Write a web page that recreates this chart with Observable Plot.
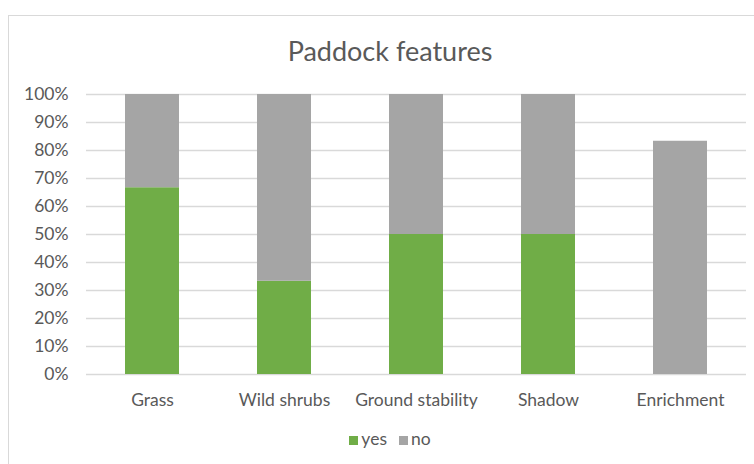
<!DOCTYPE html>
<html>
<head>
<meta charset="utf-8">
<script src="https://cdn.jsdelivr.net/npm/d3@7"></script>
<script src="https://cdn.jsdelivr.net/npm/@observablehq/plot@0.6"></script>
<style>
  html, body { margin: 0; padding: 0; background: #fff; overflow: hidden; width: 754px; height: 464px; }
  body { position: relative; font-family: Lato, "Open Sans", sans-serif; color: #595959; }
  #frame { position: absolute; left: 8px; top: 15px; width: 764px; height: 470px; border: 1.5px solid #d9d9d9; box-sizing: border-box; }
  #title { position: absolute; left: 8px; width: 764px; top: 35px; text-align: center; font-size: 27px; line-height: 32px; color: #595959; }
  #chart { position: absolute; left: 0; top: 80px; }
  #legend { position: absolute; left: 8px; width: 764px; top: 429px; text-align: center; font-size: 17.5px; line-height: 20px; color: #595959; }
  #legend .item { display: inline-block; margin: 0 6px; }
  #legend .sw { display: inline-block; width: 9px; height: 9px; margin-right: 3px; vertical-align: 0px; }
</style>
</head>
<body>
<div id="frame"></div>
<div id="title">Paddock features</div>
<div id="chart"></div>
<div id="legend"></div>
<script>
const categories = ["Grass", "Wild shrubs", "Ground stability", "Shadow", "Enrichment"];
const yesValues = [66.7, 33.3, 50, 50, 0];
const noValues = [33.3, 66.7, 50, 50, 83.3];
const seriesNames = ["yes", "no"];
const seriesColors = ["#70ad47", "#a5a5a5"];
const yTicks = [0, 10, 20, 30, 40, 50, 60, 70, 80, 90, 100];

const data = [
  ...categories.map((c, i) => ({category: c, series: "yes", value: yesValues[i]})),
  ...categories.map((c, i) => ({category: c, series: "no", value: noValues[i]}))
];

const plot = Plot.plot({
  width: 754,
  height: 335,
  marginTop: 14,
  marginBottom: 41,
  marginLeft: 86,
  marginRight: 8,
  style: { fontSize: "17.5px", fontFamily: "Lato, 'Open Sans', sans-serif", color: "#595959", background: "transparent" },
  x: { domain: categories, paddingInner: 0.59, paddingOuter: 0.295, label: null },
  y: { domain: [0, 100], label: null },
  color: { domain: seriesNames, range: seriesColors },
  marks: [
    Plot.ruleY(yTicks, { stroke: "#d9d9d9", strokeWidth: 1.5 }),
    Plot.barY(data, { x: "category", y: "value", fill: "series" }),
    Plot.axisY({ ticks: yTicks, tickSize: 0, tickPadding: 18, tickFormat: d => d + "%", label: null }),
    Plot.axisX({ tickSize: 0, tickPadding: 19, label: null })
  ]
});
document.getElementById("chart").appendChild(plot);

const legend = document.getElementById("legend");
seriesNames.forEach((s, i) => {
  const item = document.createElement("span");
  item.className = "item";
  const sw = document.createElement("span");
  sw.className = "sw";
  sw.style.background = seriesColors[i];
  item.appendChild(sw);
  item.appendChild(document.createTextNode(s));
  legend.appendChild(item);
});
</script>
</body>
</html>
